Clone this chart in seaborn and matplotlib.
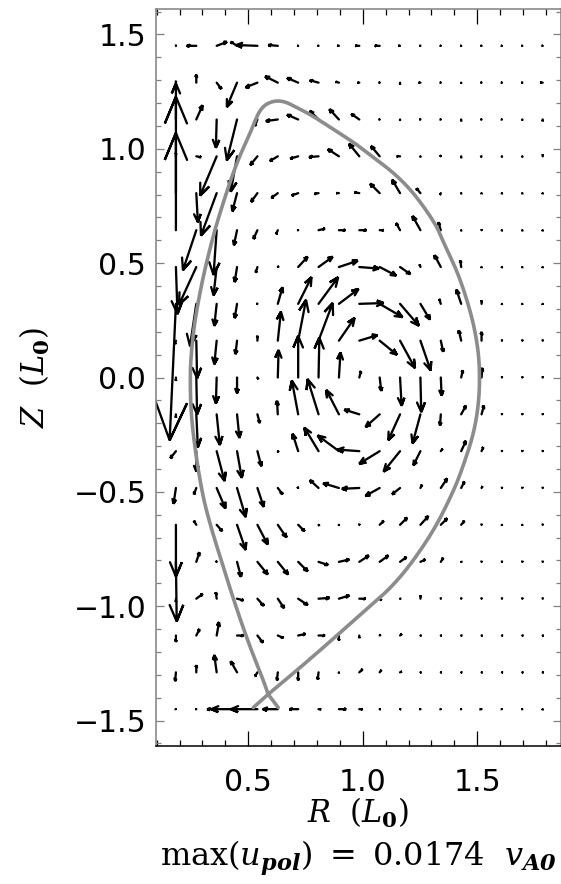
import numpy as np
import pandas as pd
import seaborn as sns
import matplotlib
matplotlib.use("Agg")
import matplotlib.pyplot as plt
from matplotlib.collections import LineCollection
from matplotlib.ticker import MultipleLocator, FuncFormatter

# ---- grid of the poloidal flow field (R, Z in units of L0) ----
R_nodes = [0.184, 0.273, 0.362, 0.451, 0.540, 0.629, 0.718, 0.807, 0.896, 0.985,
           1.074, 1.163, 1.252, 1.341, 1.430, 1.519, 1.608, 1.697, 1.786]
Z_nodes = [1.450, 1.289, 1.128, 0.967, 0.806, 0.644, 0.483, 0.322, 0.161, 0.000,
           -0.161, -0.322, -0.483, -0.644, -0.806, -0.967, -1.128, -1.289, -1.450]

# ---- poloidal velocity components, units of 1e-4 v_A0 (rows follow Z_nodes) ----
u_R = [
    [0, -12, 13, -8, -27, -12, -1, -1, -2, -5, -6, -2, -1, -1, -1, -1, -1, -1, -1],
    [0, 0, 6, -13, -15, -16, -14, -11, -4, -2, -1, 0, -2, -1, 0, -1, -1, -1, -3],
    [0, 8, -1, -13, -3, -15, -14, -11, -12, -10, -1, 0, -1, -1, 0, -1, -1, 0, 0],
    [0, 6, -21, -8, -9, -10, -10, -12, -14, -13, -11, -4, 0, -1, 0, -1, 0, 0, 0],
    [0, 2, -20, -6, -8, -8, -8, -5, -3, -6, -12, -10, -5, -1, 0, 0, 0, 0, 0],
    [0, -17, -4, -4, -5, -2, -1, 8, 8, 9, 5, -5, -10, -3, 0, 0, 0, 0, 0],
    [2, -22, -4, -3, -2, 1, 12, 18, 24, 25, 21, 13, -1, -8, -1, 0, 0, 0, 0],
    [-8, -8, -3, -3, -1, 6, 17, 25, 25, 31, 29, 24, 12, -2, -6, 0, 0, 0, 0],
    [-1, 1, -3, -2, 0, 4, 10, 18, 20, 23, 22, 19, 13, 3, -3, 0, 0, 0, 0],
    [0, 1, -1, 0, 1, 1, 0, 1, 2, 2, 2, 2, 1, 1, 2, 1, 0, 0, 0],
    [0, 2, 4, 3, 3, -1, -8, -14, -16, -19, -18, -15, -10, -1, 6, 3, 0, 0, 0],
    [-7, 0, 10, 6, 5, 1, -7, -18, -27, -28, -26, -21, -9, 2, 6, 2, 0, 0, 0],
    [-3, -3, 11, 11, 8, 6, -1, -11, -20, -22, -18, -10, 2, 8, 4, 1, 0, 0, 0],
    [0, -3, 7, 11, 13, 11, 8, 1, 0, 0, 5, 9, 10, 8, 4, 0, 0, 0, 0],
    [1, 4, -1, 5, 13, 13, 12, 12, 13, 12, 11, 8, 6, 3, 1, 0, 0, 0, 0],
    [0, 8, -1, 8, 8, 8, 12, 14, 13, 8, 2, 1, 0, 0, 0, 0, 0, 0, 0],
    [0, 4, 3, 8, 7, 7, 9, 8, 0, 0, 1, 2, 1, 1, 1, 1, 1, 1, 1],
    [-1, 0, -3, -8, -3, -1, 0, -1, 0, 4, 2, 2, 1, 1, 1, 1, 1, 1, 1],
    [-1, -1, -12, -33, -34, -19, -11, 3, 9, 4, 1, 1, -1, -1, -1, -2, -1, -1, 0],
]
u_Z = [
    [1, 0, 5, 5, 1, 1, 0, 0, 0, 0, 0, 0, 0, 0, 0, 0, 0, 0, 0],
    [2, 10, -8, -31, -6, 8, 6, 3, 1, 0, 0, -2, 0, 0, -1, 0, 0, 0, 0],
    [46, 18, -36, -52, -8, -2, 6, 11, 13, 7, 0, -1, 0, 0, -2, 0, 0, -1, -2],
    [4, -1, -50, -45, -11, -6, -3, -1, 9, 16, 13, 0, -1, 1, -2, -1, -1, -1, 2],
    [123, -37, -54, -23, -11, -6, -3, -1, 0, 1, 12, 17, 6, -2, -1, -1, -1, -1, -1],
    [124, -51, -57, -19, -11, -5, 0, 2, 0, 0, 0, 9, 18, 10, -1, 1, -1, -1, -1],
    [-60, -48, -36, -19, -7, 1, 13, 13, 8, -2, -11, -9, 3, 15, 8, -1, -1, -1, -1],
    [-174, -54, -28, -18, 0, 21, 34, 34, 19, 1, -17, -28, -20, 6, 18, 4, -1, -1, -1],
    [-4, -48, -30, -17, 6, 37, 52, 48, 29, 7, -18, -35, -38, -14, 13, 11, 1, 1, 1],
    [-4, -47, -33, -20, -2, 35, 53, 51, 32, 8, -17, -36, -44, -23, 9, 12, 1, 1, 1],
    [-4, -42, -39, -30, -11, 17, 43, 45, 31, 6, -16, -33, -37, -14, 11, 11, 1, 1, 1],
    [-9, -26, -38, -34, -19, -1, 22, 30, 20, 2, -16, -26, -18, 3, 13, 5, 1, 1, 1],
    [-20, -8, -26, -37, -24, -8, 1, 10, 6, -1, -10, -8, 4, 12, 8, 2, 1, 1, 1],
    [-66, 5, -8, -32, -25, -16, -8, -1, -1, 1, 5, 9, 11, 8, 5, 1, -1, -1, 1],
    [-76, 12, 1, -19, -16, -16, -12, -4, 3, 8, 8, 6, 3, 5, 0, 1, 1, 1, 1],
    [-4, 6, 8, -2, -9, -12, -8, 1, 4, 0, -2, 0, 4, 1, 1, 1, 1, 1, 1],
    [-8, 8, 17, 0, -9, -3, 2, 0, -6, -3, 1, 2, 0, 0, 0, 0, 0, 0, 0],
    [-11, 9, 22, 14, -5, -10, -10, -9, -1, 4, 3, 1, 0, 0, 0, 0, 0, 0, 0],
    [0, 0, 0, 0, 0, 0, 0, 0, 0, 0, 0, 0, 0, 0, 0, 0, 0, 0, -1],
]

# ---- last closed flux surface (separatrix) with the lower X-point legs ----
sep_R = [0.522, 0.587, 0.704, 0.813, 0.922, 1.023, 1.119, 1.211, 1.313, 1.397,
         1.447, 1.484, 1.504, 1.510, 1.504, 1.484, 1.452, 1.412, 1.364, 1.313,
         1.225, 1.138, 1.036, 0.966, 0.886, 0.799, 0.726, 0.653, 0.595, 0.551,
         0.510, 0.459, 0.416, 0.361, 0.326, 0.296, 0.267, 0.251, 0.247, 0.252,
         0.272, 0.302, 0.335, 0.379, 0.444, 0.505, 0.562, 0.587, 0.631]
sep_Z = [-1.443, -1.385, -1.287, -1.193, -1.097, -1.007, -0.920, -0.812, -0.659, -0.492,
         -0.361, -0.238, -0.120, -0.002, 0.111, 0.229, 0.347, 0.461, 0.566, 0.675,
         0.800, 0.890, 0.970, 1.023, 1.076, 1.132, 1.173, 1.206, 1.202, 1.165,
         1.074, 0.958, 0.841, 0.667, 0.535, 0.404, 0.244, 0.098, -0.018, -0.164,
         -0.339, -0.514, -0.645, -0.790, -0.994, -1.169, -1.315, -1.385, -1.443]
sep_corner = 1              # index of the X-point, where the curve keeps a sharp corner

x_ticks = [0.5, 1.0, 1.5]
y_ticks = [-1.5, -1.0, -0.5, 0.0, 0.5, 1.0, 1.5]


def catmull_rom(px, py, n=8):
    """Smooth drawing path passing through every given point."""
    p = np.column_stack([px, py])
    p = np.vstack([2 * p[0] - p[1], p, 2 * p[-1] - p[-2]])
    out = []
    t = np.linspace(0, 1, n, endpoint=False)[:, None]
    for i in range(1, len(p) - 2):
        p0, p1, p2, p3 = p[i - 1], p[i], p[i + 1], p[i + 2]
        seg = 0.5 * ((2 * p1) + (-p0 + p2) * t + (2 * p0 - 5 * p1 + 4 * p2 - p3) * t ** 2
                     + (-p0 + 3 * p1 - 3 * p2 + p3) * t ** 3)
        out.append(seg)
    out.append(p[-2][None, :])
    return np.vstack(out)


# ---- style ----
sns.set_theme(style="white")
plt.rcParams["font.family"] = ["DejaVu Sans"]
plt.rcParams["mathtext.fontset"] = "dejavuserif"
plt.rcParams["text.color"] = "black"

W, H = 561, 884
fig = plt.figure(figsize=(W / 100, H / 100), dpi=100, facecolor="white")
ax = fig.add_axes([156 / W, 138 / H, 405 / W, 737 / H])
ax.set_xlim(0.097, 1.866)
ax.set_ylim(-1.611, 1.611)

# ---- velocity arrows (IDL velovect style: tail on the node, head = 0.3 of length) ----
U = np.array(u_R, dtype=float)
V = np.array(u_Z, dtype=float)
RR, ZZ = np.meshgrid(np.array(R_nodes), np.array(Z_nodes))
mag_max = np.hypot(U, V).max()
arrow_length = 0.597            # data length of the largest vector
k = arrow_length / mag_max
dx, dy = U * k, V * k
x1, y1 = RR + dx, ZZ + dy
st = 0.3 * np.sin(np.deg2rad(22.5))
ct = 0.3 * np.cos(np.deg2rad(22.5))
segs = []
for x0_, y0_, xe, ye, ddx, ddy in zip(RR.ravel(), ZZ.ravel(), x1.ravel(), y1.ravel(),
                                      dx.ravel(), dy.ravel()):
    segs.append([
        (x0_, y0_), (xe, ye),
        (xe - (ct * ddx + st * ddy), ye - (ct * ddy - st * ddx)),
        (xe, ye),
        (xe - (ct * ddx - st * ddy), ye - (ct * ddy + st * ddx)),
    ])
arrows = LineCollection(segs, colors="black", linewidths=1.65,
                        capstyle="round", joinstyle="miter", zorder=2)
ax.add_collection(arrows)

# ---- separatrix: smooth path, split at the X-point so the corner stays sharp ----
n_sep = len(sep_R)
first = catmull_rom(sep_R[:sep_corner + 1], sep_Z[:sep_corner + 1])
main = catmull_rom(sep_R[sep_corner:n_sep - sep_corner], sep_Z[sep_corner:n_sep - sep_corner])
last = catmull_rom(sep_R[n_sep - sep_corner - 1:], sep_Z[n_sep - sep_corner - 1:])
path = np.vstack([first, main, last])
sep = pd.DataFrame({"R": path[:, 0], "Z": path[:, 1]})
sns.lineplot(data=sep, x="R", y="Z", sort=False, estimator=None, ax=ax,
             color="#8c8c8c", linewidth=2.6, zorder=3)
ax.set_xlabel("")
ax.set_ylabel("")


# ---- axes decoration ----
def fmt(v, _pos):
    if abs(v) < 1e-9:
        v = 0.0
    return f"{v:.1f}".replace("-", "\u2212")


ax.xaxis.set_major_locator(MultipleLocator(0.5))
ax.xaxis.set_minor_locator(MultipleLocator(0.1))
ax.yaxis.set_major_locator(MultipleLocator(0.5))
ax.yaxis.set_minor_locator(MultipleLocator(0.1))
ax.xaxis.set_major_formatter(FuncFormatter(fmt))
ax.yaxis.set_major_formatter(FuncFormatter(fmt))
ax.set_xticks(x_ticks)
ax.set_yticks(y_ticks)

ax.tick_params(which="both", direction="in", top=True, right=True,
               bottom=True, left=True, labelsize=21.5, labelcolor="black")
ax.tick_params(axis="x", which="major", length=10.5, width=0.9, color="black", pad=16)
ax.tick_params(axis="x", which="minor", length=4.5, width=0.9, color="black")
ax.tick_params(axis="y", which="major", length=6.0, width=0.9, color="#808080", pad=7)
ax.tick_params(axis="y", which="minor", length=3.5, width=0.9, color="#808080")

for side in ("left", "top", "right"):
    ax.spines[side].set_color("#808080")
    ax.spines[side].set_linewidth(1.1)
ax.spines["bottom"].set_color("black")
ax.spines["bottom"].set_linewidth(1.1)
ax.grid(False)

# ---- labels ----
cx = (156 + 561) / 2 / W
fig.text(cx, (H - 813) / H, r"$R\ \ (L_{\mathbf{0}})$", fontsize=22,
         ha="center", va="center")
fig.text(35 / W, (H - 378) / H, r"$Z\ \ (L_{\mathbf{0}})$", fontsize=22,
         ha="center", va="center", rotation=90)
max_txt = f"{mag_max * 1e-4:.4f}"
fig.text(cx, (H - 858) / H,
         r"$\mathrm{max}(u_{\mathbfit{pol}})\ =\ " + max_txt + r"\ \ v_{\mathbfit{A0}}$",
         fontsize=23, ha="center", va="center")

fig.savefig("out.png", dpi=100, facecolor="white")
